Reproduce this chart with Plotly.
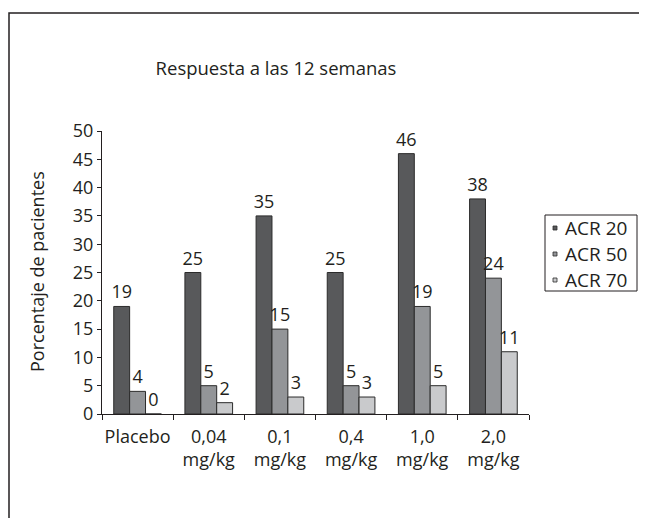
import plotly.graph_objects as go

categories = ["Placebo", "0,04<br>mg/kg", "0,1<br>mg/kg", "0,4<br>mg/kg", "1,0<br>mg/kg", "2,0<br>mg/kg"]
acr20 = [19, 25, 35, 25, 46, 38]
acr50 = [4, 5, 15, 5, 19, 24]
acr70 = [0, 2, 3, 3, 5, 11]
series_names = ["ACR 20", "ACR 50", "ACR 70"]
series_colors = ["#58595b", "#939598", "#c9cacc"]
y_ticks = list(range(0, 51, 5))

FONT = "Open Sans, Noto Sans, DejaVu Sans"
TXT = "#231f20"

# plot area in figure pixels
L, T, PW, PH = 94, 123, 427, 283
W, H = 647, 518


def px(xf):
    return (xf - L) / PW


def py(yf):
    return (T + PH - yf) / PH


fig = go.Figure()
for name, vals, col in zip(series_names, [acr20, acr50, acr70], series_colors):
    fig.add_trace(go.Bar(
        x=categories, y=vals, name=name,
        marker=dict(color=col, line=dict(color="#2b2b2b", width=1)),
        text=[str(v) for v in vals], textposition="outside",
        textfont=dict(size=18, color=TXT, family=FONT),
        constraintext="none", cliponaxis=False, showlegend=False,
    ))

fig.update_layout(
    width=W, height=H,
    margin=dict(l=L, r=W - L - PW, t=T, b=H - T - PH),
    paper_bgcolor="white", plot_bgcolor="white",
    barmode="group", bargap=0.33, bargroupgap=0,
    font=dict(family=FONT, size=18, color=TXT),
    title=dict(text="Respuesta a las 12 semanas", x=px(268), xref="paper", xanchor="center",
               y=1 - 61 / H, yref="container", yanchor="middle",
               font=dict(size=18.5, color=TXT, family=FONT)),
    showlegend=False,
)
fig.update_xaxes(showline=True, linecolor="#231f20", linewidth=1, ticks="outside",
                 tickson="boundaries", ticklen=5, tickcolor="#231f20", showgrid=False,
                 tickangle=0, ticklabelstandoff=6, tickfont=dict(size=18, color=TXT))
fig.update_yaxes(range=[0, 50], tickvals=y_ticks, showline=True, linecolor="#231f20", linewidth=1,
                 ticks="outside", ticklen=4, tickcolor="#231f20", showgrid=False, zeroline=False,
                 tickfont=dict(size=18, color=TXT))

# y axis title
fig.add_annotation(text="Porcentaje de pacientes", textangle=-90, xref="paper", yref="paper",
                   x=px(29), y=py(264), xanchor="center", yanchor="middle", showarrow=False,
                   font=dict(size=18, color=TXT, family=FONT))

# outer frame
fig.add_shape(type="rect", xref="paper", yref="paper",
              x0=px(1), x1=px(680), y0=py(560), y1=py(5),
              line=dict(color="#231f20", width=1.5), fillcolor="rgba(0,0,0,0)", layer="below")

# legend box
fig.add_shape(type="rect", xref="paper", yref="paper",
              x0=px(537), x1=px(629), y0=py(283), y1=py(207),
              line=dict(color="#231f20", width=1), fillcolor="white")
row_y = [220, 246, 272]
for name, col, ry in zip(series_names, series_colors, row_y):
    fig.add_shape(type="rect", xref="paper", yref="paper", xsizemode="pixel", ysizemode="pixel",
                  xanchor=px(547), yanchor=py(ry), x0=-2, x1=2, y0=-2, y1=2,
                  line=dict(color="#2b2b2b", width=0.8), fillcolor=col)
    fig.add_annotation(text=name, xref="paper", yref="paper", x=px(555), y=py(ry),
                       xanchor="left", yanchor="middle", showarrow=False,
                       font=dict(size=19, color=TXT, family=FONT))

fig.write_html("out.html")
